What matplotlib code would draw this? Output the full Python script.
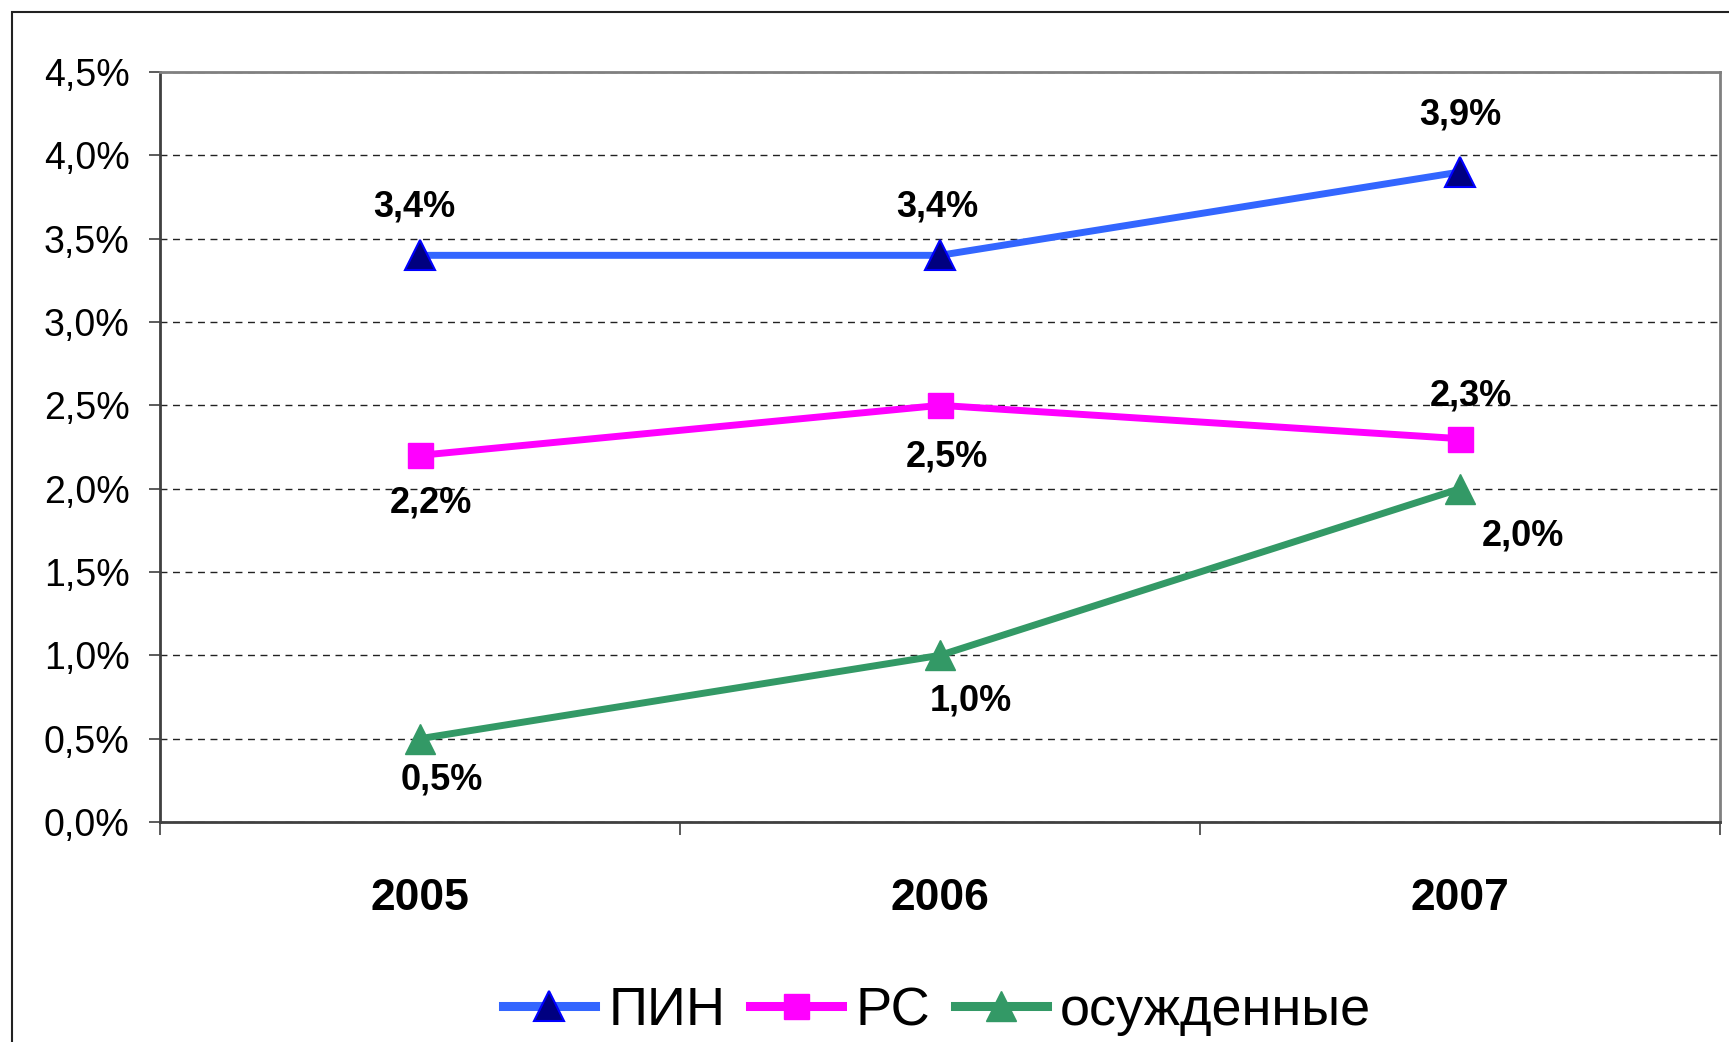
import matplotlib
matplotlib.use('Agg')
import matplotlib.pyplot as plt
from matplotlib.patches import Rectangle
from matplotlib.ticker import FuncFormatter, FixedLocator

# данные
years = ['2005', '2006', '2007']
pin = [3.4, 3.4, 3.9]
rs = [2.2, 2.5, 2.3]
osuzh = [0.5, 1.0, 2.0]
names = ['ПИН', 'РС', 'осужденные']

# смещения подписей (в пунктах)
off_pin = [(-4, 35), (-2, 35), (0, 41)]
off_rs = [(8, -34), (5, -37), (8, 31)]
off_os = [(16, -30), (22, -33), (45, -34)]

plt.rcParams['font.family'] = ['Liberation Sans', 'DejaVu Sans']

fig = plt.figure(figsize=(17.29, 10.42), dpi=100)
fig.patches.append(Rectangle((12 / 1729, -0.1), 1.2, 1.1 - 12 / 1042 + 0.0,
                             transform=fig.transFigure, fill=False,
                             edgecolor='#222222', lw=1.5))
ax = fig.add_axes([160 / 1729, 1 - 822 / 1042, 1560 / 1729, 750 / 1042])

x = list(range(len(years)))
l1, = ax.plot(x, pin, color='#3366FF', lw=5, marker='^', ms=21,
              mfc='#000080', mec='#0000FF', mew=1.5, zorder=3)
l2, = ax.plot(x, rs, color='#FF00FF', lw=5, marker='s', ms=18,
              mfc='#FF00FF', mec='#FF00FF', zorder=3)
l3, = ax.plot(x, osuzh, color='#339966', lw=5, marker='^', ms=21,
              mfc='#339966', mec='#339966', zorder=3)

def fmt(v):
    return f'{v:.1f}%'.replace('.', ',')

for vals, offs in [(pin, off_pin), (rs, off_rs), (osuzh, off_os)]:
    for i, v in enumerate(vals):
        ax.annotate(fmt(v), (i, v), xytext=offs[i], textcoords='offset points',
                    ha='center', va='center', fontsize=26, fontweight='bold')

ax.set_xlim(-0.5, 2.5)
ax.set_ylim(0, 4.5)
ax.set_yticks([i * 0.5 for i in range(10)])
ax.yaxis.set_major_formatter(FuncFormatter(lambda v, p: fmt(v)))
ax.tick_params(axis='y', labelsize=27, length=8, width=1.2, color='#404040', pad=14)

ax.set_xticks(x)
ax.set_xticklabels(years, fontsize=32, fontweight='bold')
ax.xaxis.set_minor_locator(FixedLocator([-0.5, 0.5, 1.5, 2.5]))
ax.tick_params(axis='x', which='major', length=0, pad=40)
ax.tick_params(axis='x', which='minor', length=9, width=1.2, color='#404040')

ax.grid(axis='y', linestyle=(0, (5, 4)), color='#222222', lw=1)
for sp in ['left', 'bottom']:
    ax.spines[sp].set_color('#404040')
    ax.spines[sp].set_linewidth(2)
for sp in ['top', 'right']:
    ax.spines[sp].set_color('#808080')
    ax.spines[sp].set_linewidth(2)

leg = fig.legend([l1, l2, l3], names, loc='center',
                 bbox_to_anchor=(0.542, 1 - 1011 / 1042),
                 ncol=3, frameon=False, fontsize=39, handlelength=1.7,
                 handletextpad=0.25, columnspacing=0.45)
for h in leg.legend_handles:
    h.set_linewidth(6.5)

fig.savefig('out.png', dpi=100)
